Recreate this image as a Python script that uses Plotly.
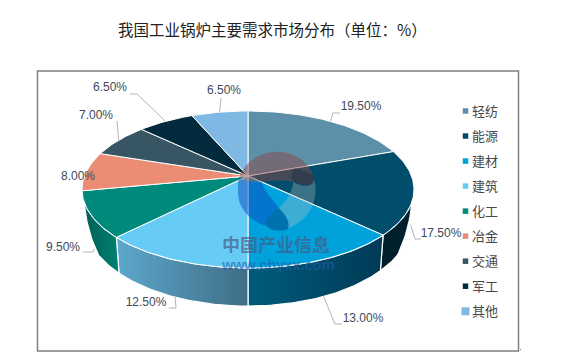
import math
import plotly.graph_objects as go

TITLE = "我国工业锅炉主要需求市场分布（单位：%）"
categories = ["轻纺", "能源", "建材", "建筑", "化工", "冶金", "交通", "军工", "其他"]
shares = [19.5, 17.5, 13.0, 12.5, 9.5, 8.0, 7.0, 6.5, 6.5]

# styles
top_colors = ["#5b90a8", "#004e6b", "#00a2dc", "#66ccf5", "#008a7c", "#ea8d74", "#385563", "#022c3e", "#7fb8e2"]
side_colors = [None, ("#001f2b", "#00222e"), ("#005c7c", "#003a56"), ("#5ca8cc", "#3f6d86"),
               ("#005f56", "#008072"), None, None, None, None]

# projection of the tilted disc, in pixels
CX, CY, RX, RY, K, H, S = 248, 176, 163.5, 76.2, 0.172, 31.5, 0.98
SIDE_A, SIDE_B, RAMP = 108.0, 252.0, 14.0
PAGE_MARGIN = 8  # the page body offsets the figure


def top_pt(a):
    r = math.radians(a)
    w = 1 + K * math.cos(r)
    return CX + RX * math.sin(r) / w, CY - RY * math.cos(r) / w


def bottom_pt(a, ramp=True):
    r = math.radians(a)
    w = 1 + K * math.cos(r)
    f = 1.0
    if ramp:
        f = min(1.0, math.sqrt(max(0.0, min(a - SIDE_A, SIDE_B - a)) / RAMP))
    x, y = top_pt(a)
    return x + (CX + S * (x - CX) - x) * f, y + f * H / w


def arc(a, b, fn):
    n = max(2, int(abs(b - a)) + 1)
    return [fn(a + (b - a) * i / (n - 1)) for i in range(n)]


total = sum(shares)
edges = [0.0]
for v in shares:
    edges.append(edges[-1] + v / total * 360)

fig = go.Figure()

# side walls
for i, colors in enumerate(side_colors):
    if not colors:
        continue
    a = max(edges[i], SIDE_A)
    b = min(edges[i + 1], SIDE_B)
    pts = arc(a, b, top_pt) + arc(b, a, bottom_pt)
    pts.append(pts[0])
    fig.add_trace(go.Scatter(
        x=[p[0] for p in pts], y=[p[1] for p in pts], mode="lines", fill="toself",
        line=dict(color="white", width=1.2),
        fillgradient=dict(type="horizontal", colorscale=[[0, colors[0]], [1, colors[1]]]),
        hoverinfo="skip", showlegend=False))

# top slices
for i, name in enumerate(categories):
    pts = [(CX, CY)] + arc(edges[i], edges[i + 1], top_pt) + [(CX, CY)]
    fig.add_trace(go.Scatter(
        x=[p[0] for p in pts], y=[p[1] for p in pts], mode="lines", fill="toself",
        fillcolor=top_colors[i], line=dict(color="white", width=1),
        name=name, hoverinfo="skip", showlegend=False))

# leader lines and value labels
label_tier = ["top", "bottom", "bottom", "bottom", "bottom", None, "top", "top", "top"]
leader_rest = [[(333, 113), (340, 113)], [(415, 239), (421, 239)], [(335, 324), (342, 324)],
               [(176, 308), (169, 308)], [(93, 252), (83, 252)], None,
               [(117, 121)], [(137, 94), (130, 94)], [(221, 98)]]
label_pos = [(361, 107), (441, 234), (363, 319), (146, 303), (63, 248), (78, 177), (96, 116), (110, 88), (224, 91)]
for i, v in enumerate(shares):
    mid = (edges[i] + edges[i + 1]) / 2
    if label_tier[i]:
        start = top_pt(mid) if label_tier[i] == "top" else bottom_pt(mid, ramp=False)
        pts = [start] + leader_rest[i]
        fig.add_trace(go.Scatter(x=[p[0] for p in pts], y=[p[1] for p in pts], mode="lines",
                                 line=dict(color="#b4b4b4", width=1), hoverinfo="skip", showlegend=False))
    fig.add_trace(go.Scatter(
        x=[label_pos[i][0]], y=[label_pos[i][1]], mode="text", text=[f"{v:.2f}%"],
        textposition="middle center",
        textfont=dict(family="Liberation Sans", size=12, color="#404a5a"),
        hoverinfo="skip", showlegend=False))

# legend
for i, name in enumerate(categories):
    fig.add_trace(go.Scatter(
        x=[465.5], y=[111 + i * 25.03], mode="markers", hoverinfo="skip", showlegend=False,
        marker=dict(symbol="square", size=8 if i == 8 else 5.5, color=top_colors[i], line=dict(width=0))))
    fig.add_annotation(x=469.5, y=110.5 + i * 25.03, xref="x", yref="y", text=name, showarrow=False,
                       xanchor="left", yanchor="middle",
                       font=dict(family="Noto Sans CJK SC", size=13, color="#484848"))


def zp(zx, zy):
    return f"{200 + zx / 3:.1f},{140 + zy / 3:.1f}"


def blob(fill, *cmds):
    out = []
    for c in cmds:
        if isinstance(c, str):
            out.append(c)
        else:
            out.append(zp(*c))
    return dict(type="path", xref="x", yref="y", path=" ".join(out), fillcolor=fill, line=dict(width=0), layer="above")


shapes = [
    dict(type="rect", xref="x", yref="y", x0=37.5, y0=71, x1=518.5, y1=351,
         line=dict(color="#7f7f7f", width=1.5), layer="below"),
    dict(type="rect", xref="x", yref="y", x0=520, y0=349, x1=521, y1=350,
         line=dict(width=0), fillcolor="#707070"),
    # watermark logo
    blob("rgba(140,70,70,0.50)", "M", (118, 108), "C", (140, 60), (185, 35), (232, 35), "C", (280, 35), (320, 60),
         (340, 105), "C", (350, 130), (320, 145), (290, 128), "C", (250, 115), (190, 125), (170, 125),
         "C", (150, 130), (130, 125), (118, 108), "Z"),
    blob("rgba(0,30,50,0.28)", "M", (283, 85), "C", (310, 90), (345, 100), (346, 122), "C", (345, 145), (300, 140),
         (278, 122), "C", (270, 110), (275, 95), (283, 85), "Z"),
    blob("rgba(10,70,190,0.50)", "M", (118, 110), "C", (130, 125), (160, 130), (185, 125), "C", (195, 160), (225, 185),
         (237, 205), "C", (215, 215), (195, 240), (200, 258), "C", (150, 245), (110, 200), (114, 150),
         "C", (113, 135), (115, 120), (118, 110), "Z"),
    blob("rgba(0,50,110,0.42)", "M", (237, 205), "C", (260, 225), (275, 255), (262, 268), "C", (240, 278), (205, 270),
         (199, 255), "C", (195, 240), (215, 215), (237, 205), "Z"),
    blob("rgba(200,200,200,0.30)", "M", (342, 115), "C", (355, 160), (345, 235), (264, 265), "C", (270, 240), (250, 220),
         (237, 205), "C", (255, 185), (275, 165), (280, 125), "C", (300, 140), (340, 145), (342, 115), "Z"),
]

annotations = [
    dict(x=272, y=29, text=TITLE, showarrow=False, font=dict(family="Noto Sans CJK SC", size=15.5, color="#222222")),
    dict(x=276, y=243, text="<b>中国产业信息</b>", showarrow=False, height=19,
         font=dict(family="Noto Sans CJK SC", size=18, color="rgba(70,90,130,0.68)")),
    dict(x=277, y=265, text="<b>www.chyxx.com</b>", showarrow=False, height=14,
         font=dict(family="Liberation Sans", size=14.5, color="rgba(30,95,170,0.6)")),
]
for a in annotations:
    fig.add_annotation(**a, xref="x", yref="y")

fig.update_layout(
    width=563 - PAGE_MARGIN, height=362 - PAGE_MARGIN, margin=dict(l=0, r=0, t=0, b=0), autosize=False,
    paper_bgcolor="white", plot_bgcolor="white", showlegend=False, hovermode=False, shapes=shapes,
    xaxis=dict(range=[PAGE_MARGIN, 563], visible=False, fixedrange=True),
    yaxis=dict(range=[362, PAGE_MARGIN], visible=False, fixedrange=True),
)
fig.write_html("out.html", config=dict(displayModeBar=False))
